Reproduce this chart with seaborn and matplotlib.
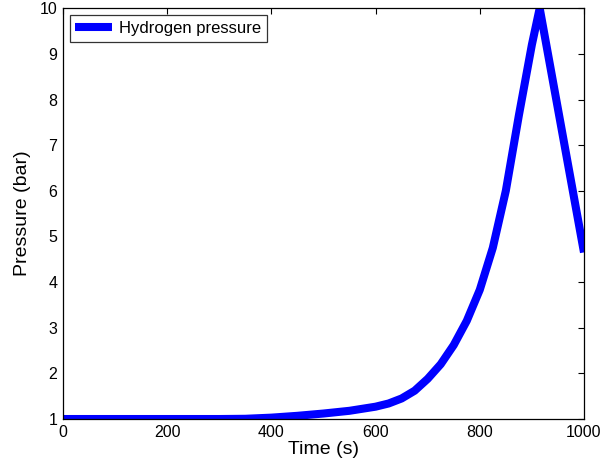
import numpy as np
import pandas as pd
import seaborn as sns
import matplotlib
matplotlib.use("Agg")
import matplotlib.pyplot as plt

# values
time_s = [0, 100, 200, 300, 350, 400, 450, 500, 550, 600, 625, 650, 675, 700,
          725, 750, 775, 800, 825, 850, 875, 900, 915, 1000]
pressure_bar = [1.0, 1.0, 1.0, 1.0, 1.005, 1.03, 1.07, 1.12, 1.18, 1.27, 1.34, 1.45,
                1.62, 1.88, 2.2, 2.62, 3.15, 3.83, 4.75, 6.0, 7.65, 9.2, 10.0, 4.65]
series_name = "Hydrogen pressure"
x_ticks = [0, 200, 400, 600, 800, 1000]
y_ticks = [1, 2, 3, 4, 5, 6, 7, 8, 9, 10]

df = pd.DataFrame({"Time (s)": time_s, "Pressure (bar)": pressure_bar})

sns.set_style("white")
plt.rcParams["font.family"] = ["Liberation Sans", "DejaVu Sans"]
plt.rcParams["text.color"] = "black"
plt.rcParams["axes.labelcolor"] = "black"

fig = plt.figure(figsize=(6.14, 4.70), dpi=100)
ax = fig.add_axes([0.1026, 0.1085, 0.8485, 0.874])

sns.lineplot(data=df, x="Time (s)", y="Pressure (bar)", ax=ax, color="#0000ff",
             linewidth=5.8, label=series_name, solid_joinstyle="round",
             solid_capstyle="butt")

ax.set_xlim(0, 1000)
ax.set_ylim(1, 10)
ax.set_xticks(x_ticks)
ax.set_yticks(y_ticks)
ax.tick_params(direction="in", length=4, width=0.8, top=True, right=True,
               labelsize=11.5, colors="black", labelcolor="black", pad=4)
for s in ax.spines.values():
    s.set_color("black")
    s.set_linewidth(0.9)
ax.set_xlabel("Time (s)", fontsize=14, labelpad=1, color="black")
ax.set_ylabel("Pressure (bar)", fontsize=14, labelpad=6, color="black")

leg = ax.legend(loc="upper left", fontsize=12, handlelength=2.2, frameon=True,
                fancybox=False, borderpad=0.35, borderaxespad=0.4,
                handletextpad=0.4)
leg.get_frame().set_edgecolor("black")
leg.get_frame().set_linewidth(0.9)
for t in leg.get_texts():
    t.set_color("black")

fig.savefig("out.png", dpi=100)
